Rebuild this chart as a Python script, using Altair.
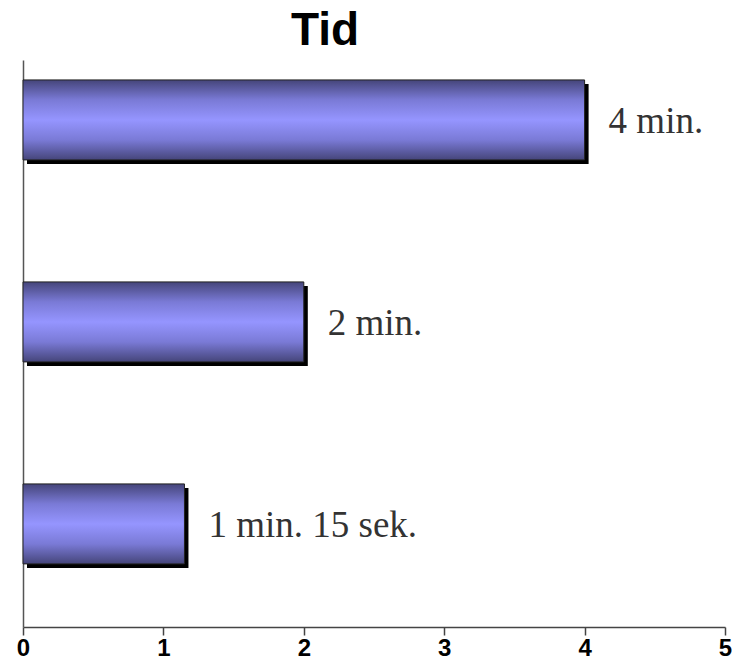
import altair as alt
import pandas as pd

title_text = ["Tid"]
categories = ["A", "B", "C"]
values = [4.0, 2.0, 1.15]
labels = ["4 min.", "2 min.", "1 min. 15 sek."]
ticks = [0, 1, 2, 3, 4, 5]

df = pd.DataFrame({"cat": categories, "val": values, "label": labels})
tdf = pd.DataFrame({"t": title_text})

grad = alt.Gradient(
    gradient="linear",
    x1=0, x2=0, y1=0, y2=1,
    stops=[
        alt.GradientStop(color="#45457a", offset=0),
        alt.GradientStop(color="#7a7ad6", offset=0.25),
        alt.GradientStop(color="#9595ff", offset=0.5),
        alt.GradientStop(color="#7a7ad6", offset=0.75),
        alt.GradientStop(color="#45457a", offset=1),
    ],
)

x = alt.X("val:Q", scale=alt.Scale(domain=[0, 5], nice=False), title=None,
          axis=alt.Axis(values=ticks, grid=False, domainColor="#444", domainWidth=1.5,
                        tickColor="#444", tickSize=8, tickWidth=1.5,
                        labelFont="Liberation Sans Narrow, Liberation Sans, Arial",
                        labelFontWeight="bold", labelFontSize=24, labelColor="#000",
                        labelPadding=1, labelFlush=False))
y = alt.Y("cat:N", sort=categories, title=None,
          scale=alt.Scale(paddingInner=0.604, paddingOuter=0.2055, align=0.24),
          axis=alt.Axis(labels=False, ticks=False, domainColor="#555", domainWidth=1.5))

base = alt.Chart(df)

shadow = base.mark_bar(color="#000", xOffset=4, yOffset=4).encode(x=x, y=y)
bars = base.mark_bar(fill=grad, stroke="#222", strokeWidth=1).encode(x=x, y=y)
text = base.mark_text(align="left", baseline="middle", dx=24, dy=2,
                      font="Liberation Serif, Times New Roman, serif",
                      fontSize=37, color="#333").encode(x=x, y=y, text="label:N")
title = alt.Chart(tdf).mark_text(
    align="center", baseline="alphabetic", font="Liberation Sans, Arial",
    fontSize=46, fontWeight="bold", color="#000"
).encode(text="t:N", x=alt.value(302), y=alt.value(-15))

chart = alt.layer(shadow, bars, text, title).properties(
    width=702, height=567,
    autosize=alt.AutoSizeParams(type="none"),
    padding={"left": 15, "top": 52, "right": 7, "bottom": 37},
).configure_view(stroke=None)

chart.save("out.html", embed_options={"renderer": "svg", "actions": False})
